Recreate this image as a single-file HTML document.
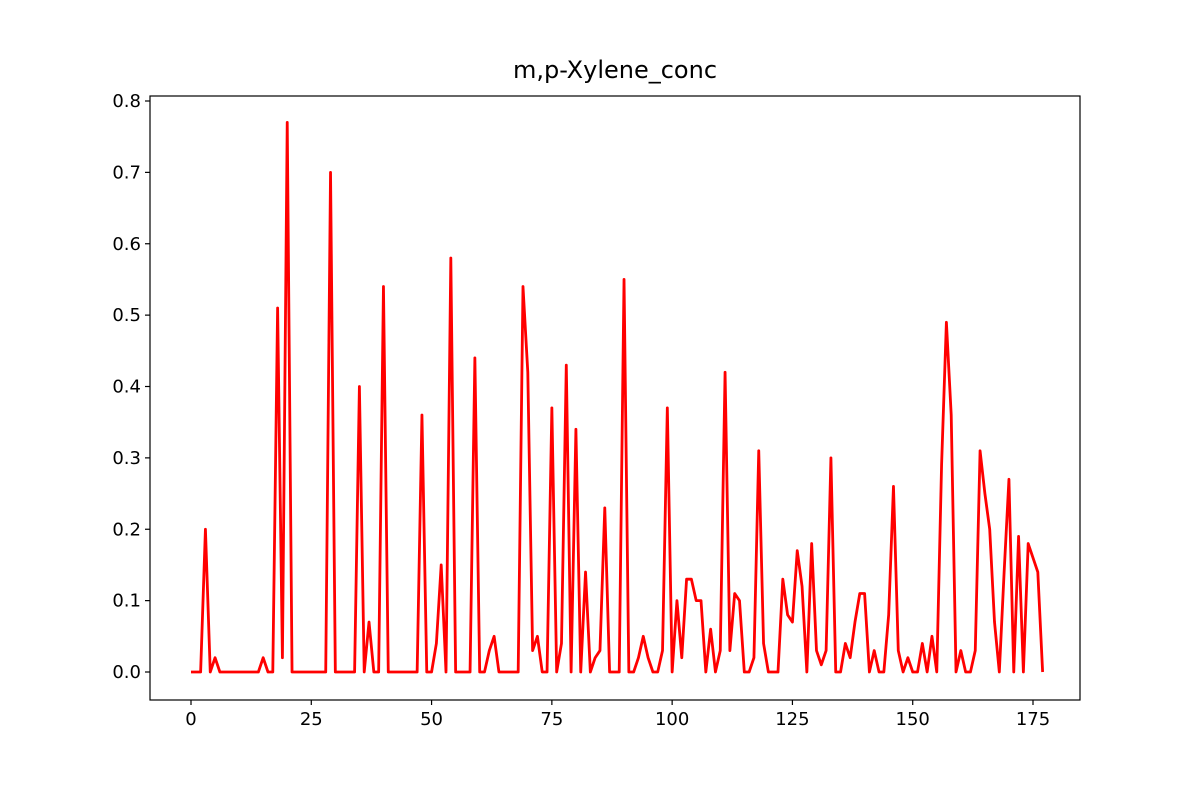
<!DOCTYPE html>
<html><head><meta charset="utf-8"><style>
body{margin:0;background:#fff;}
svg text{font-family:"DejaVu Sans","Liberation Sans",sans-serif;fill:#000;}
</style></head><body>
<svg id="chart" width="1200" height="800" xmlns="http://www.w3.org/2000/svg"></svg>
<script>
const yValues=[0,0,0,0.2,0,0.02,0,0,0,0,0,0,0,0,0,0.02,0,0,0.51,0.02,0.77,0,0,0,0,0,0,0,0,0.70,0,0,0,0,0,0.40,0,0.07,0,0,0.54,0,0,0,0,0,0,0,0.36,0,0,0.04,0.15,0,0.58,0,0,0,0,0.44,0,0,0.03,0.05,0,0,0,0,0,0.54,0.42,0.03,0.05,0,0,0.37,0,0.04,0.43,0,0.34,0,0.14,0,0.02,0.03,0.23,0,0,0,0.55,0,0,0.02,0.05,0.02,0,0,0.03,0.37,0,0.10,0.02,0.13,0.13,0.10,0.10,0,0.06,0,0.03,0.42,0.03,0.11,0.10,0,0,0.02,0.31,0.04,0,0,0,0.13,0.08,0.07,0.17,0.12,0,0.18,0.03,0.01,0.03,0.30,0,0,0.04,0.02,0.07,0.11,0.11,0,0.03,0,0,0.08,0.26,0.03,0,0.02,0,0,0.04,0,0.05,0,0.29,0.49,0.36,0,0.03,0,0,0.03,0.31,0.25,0.20,0.07,0,0.14,0.27,0,0.19,0,0.18,0.16,0.14,0];
const xTicks=[0,25,50,75,100,125,150,175];
const yTicks=[0,0.1,0.2,0.3,0.4,0.5,0.6,0.7,0.8];
const titleText="m,p-Xylene_conc";
const svg=document.getElementById('chart');
const NS='http://www.w3.org/2000/svg';
const L=150,R=1080,T=96,B=700;
const xs=v=>191+v*(1033-191)/175;
const ys=v=>672-v*(672-101)/0.8;
function mk(tag,attrs,parent){const e=document.createElementNS(NS,tag);for(const k in attrs)e.setAttribute(k,attrs[k]);(parent||svg).appendChild(e);return e;}
const t=mk('text',{x:615,y:78,'text-anchor':'middle','font-size':'24'});


t.textContent=titleText;
const pts=yValues.map((v,i)=>xs(i).toFixed(2)+','+ys(v).toFixed(2)).join(' ');
const line=mk('polyline',{points:pts,fill:'none',stroke:'#ff0000','stroke-width':'2.8','stroke-linejoin':'round'});


const frame=mk('rect',{x:L,y:T,width:R-L,height:B-T,fill:'none',stroke:'#000','stroke-width':'1.2'});


xTicks.forEach(v=>{
  const x=xs(v);
  const tk=mk('line',{x1:x,x2:x,y1:B,y2:B+5,stroke:'#000','stroke-width':'1.2'});
  
  
  const lb=mk('text',{x:x,y:B+25,'text-anchor':'middle','font-size':'18'});
  
  
  lb.textContent=v;
});
yTicks.forEach(v=>{
  const y=ys(v);
  const tk=mk('line',{x1:L-5,x2:L,y1:y,y2:y,stroke:'#000','stroke-width':'1.2'});
  
  
  const lb=mk('text',{x:L-9,y:y+6,'text-anchor':'end','font-size':'18'});
  
  
  lb.textContent=v.toFixed(1);
});
</script>
</body></html>
